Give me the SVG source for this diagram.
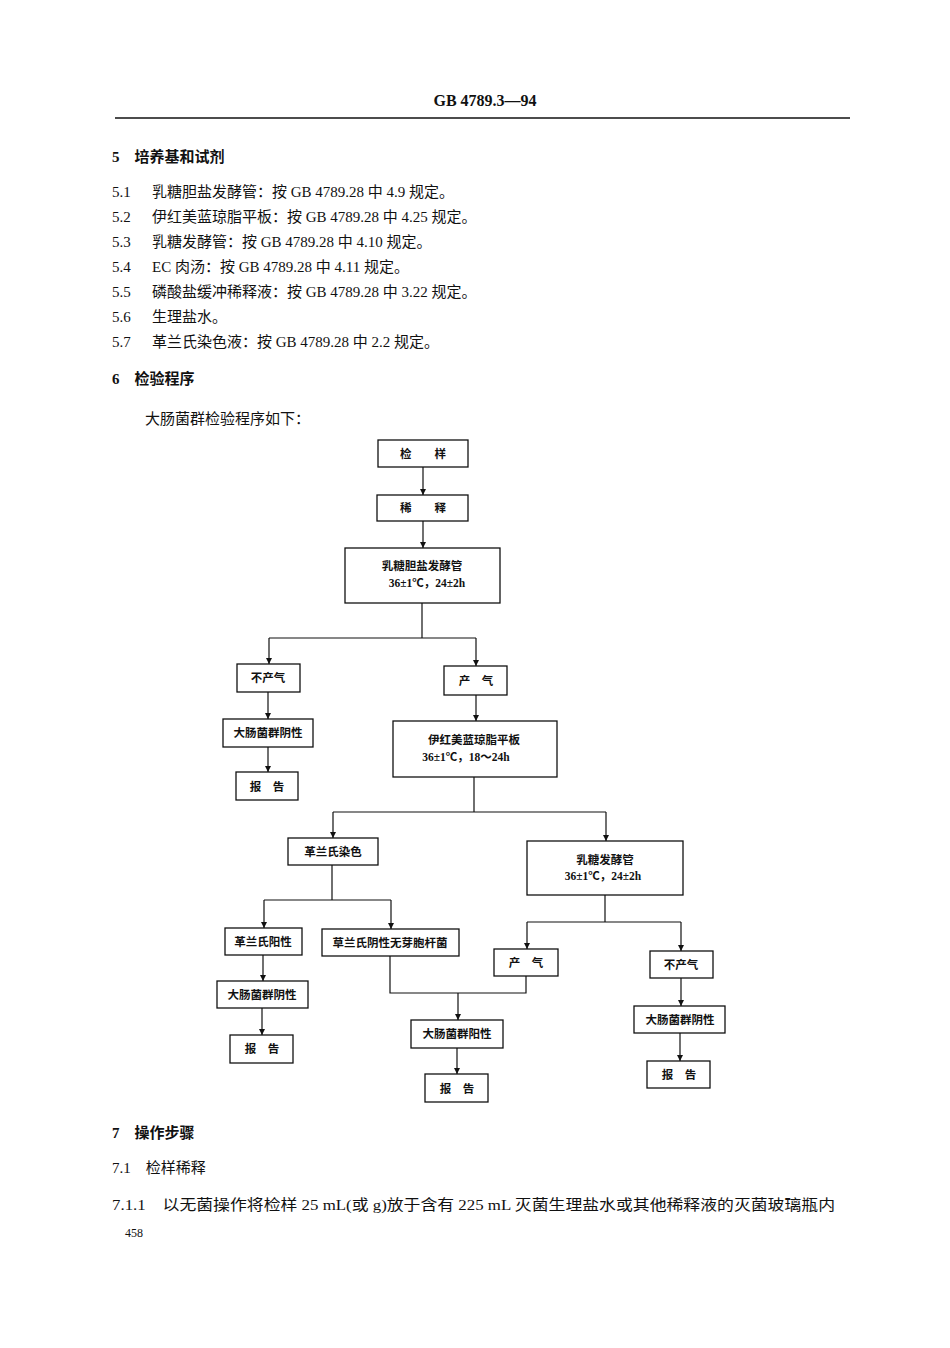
<svg xmlns="http://www.w3.org/2000/svg" width="950" height="1348" viewBox="0 0 950 1348">
<style>
text{font-family:"Liberation Serif","Noto Sans CJK SC",serif;fill:#111}
.b{font-weight:bold}
.t{font-size:15px}
.n{font-size:11.5px;font-weight:bold;text-anchor:middle}
rect{fill:#fff;stroke:#111;stroke-width:1.3}
#connectors path{fill:none;stroke:#111;stroke-width:1.2}
</style>
<defs><marker id="a" viewBox="0 0 6 6" refX="6" refY="3" markerWidth="5" markerHeight="5" orient="auto"><path d="M0,0L6,3L0,6z" fill="#111"/></marker></defs>
<rect x="0" y="0" width="950" height="1348" style="stroke:none"/>
<text x="485" y="106" class="b" font-size="16" text-anchor="middle">GB 4789.3—94</text>
<path d="M115 118H850" stroke="#111" stroke-width="1.5"/>
<g class="t">
<text x="112" y="162" class="b">5　培养基和试剂</text>
<text x="112" y="197">5.1</text><text x="152" y="197">乳糖胆盐发酵管：按 GB 4789.28 中 4.9 规定。</text>
<text x="112" y="222">5.2</text><text x="152" y="222">伊红美蓝琼脂平板：按 GB 4789.28 中 4.25 规定。</text>
<text x="112" y="247">5.3</text><text x="152" y="247">乳糖发酵管：按 GB 4789.28 中 4.10 规定。</text>
<text x="112" y="272">5.4</text><text x="152" y="272">EC 肉汤：按 GB 4789.28 中 4.11 规定。</text>
<text x="112" y="297">5.5</text><text x="152" y="297">磷酸盐缓冲稀释液：按 GB 4789.28 中 3.22 规定。</text>
<text x="112" y="322">5.6</text><text x="152" y="322">生理盐水。</text>
<text x="112" y="347">5.7</text><text x="152" y="347">革兰氏染色液：按 GB 4789.28 中 2.2 规定。</text>
<text x="112" y="384" class="b">6　检验程序</text>
<text x="145" y="424">大肠菌群检验程序如下：</text>
<text x="112" y="1138" class="b">7　操作步骤</text>
<text x="112" y="1173">7.1　检样稀释</text>
<text x="112" y="1210" textLength="723" lengthAdjust="spacingAndGlyphs">7.1.1　以无菌操作将检样 25 mL(或 g)放于含有 225 mL 灭菌生理盐水或其他稀释液的灭菌玻璃瓶内</text>
</g>
<text x="125" y="1237" font-size="12" fill="#555">458</text>
<g id="connectors">
<path d="M423 467V495" marker-end="url(#a)"/>
<path d="M423 521V548" marker-end="url(#a)"/>
<path d="M422 603V638M269 638H476M269 638V664" marker-end="url(#a)"/>
<path d="M476 638V666" marker-end="url(#a)"/>
<path d="M268 692V719" marker-end="url(#a)"/>
<path d="M268 747V772" marker-end="url(#a)"/>
<path d="M476 695V721" marker-end="url(#a)"/>
<path d="M474 777V812M333 812H606M333 812V838" marker-end="url(#a)"/>
<path d="M606 812V841" marker-end="url(#a)"/>
<path d="M332 865V900M264 900H391M264 900V928" marker-end="url(#a)"/>
<path d="M391 900V929" marker-end="url(#a)"/>
<path d="M605 895V922M527 922H681M527 922V949" marker-end="url(#a)"/>
<path d="M681 922V951" marker-end="url(#a)"/>
<path d="M263 955V981" marker-end="url(#a)"/>
<path d="M262 1008V1035" marker-end="url(#a)"/>
<path d="M390 956V993H526V976M458 993V1020" marker-end="url(#a)"/>
<path d="M457 1048V1074" marker-end="url(#a)"/>
<path d="M681 978V1006" marker-end="url(#a)"/>
<path d="M680 1033V1061" marker-end="url(#a)"/>
</g>
<g id="n1"><rect x="378" y="440" width="90" height="27"/><text x="423" y="458" class="n">检　　样</text></g>
<g id="n2"><rect x="377" y="495" width="91" height="26"/><text x="423" y="512" class="n">稀　　释</text></g>
<g id="n3"><rect x="345" y="548" width="155" height="55"/><text x="422" y="570" class="n">乳糖胆盐发酵管</text><text x="427" y="587" class="n" font-weight="normal">36±1℃，24±2h</text></g>
<g id="n4"><rect x="237" y="664" width="63" height="28"/><text x="268" y="682" class="n" font-weight="normal">不产气</text></g>
<g id="n5"><rect x="444" y="666" width="63" height="29"/><text x="476" y="685" class="n" font-weight="normal">产　气</text></g>
<g id="n6"><rect x="223" y="719" width="90" height="28"/><text x="268" y="737" class="n">大肠菌群阴性</text></g>
<g id="n7"><rect x="393" y="721" width="164" height="56"/><text x="474" y="744" class="n">伊红美蓝琼脂平板</text><text x="466" y="761" class="n" font-weight="normal">36±1℃，18～24h</text></g>
<g id="n8"><rect x="236" y="772" width="62" height="28"/><text x="267" y="791" class="n">报　告</text></g>
<g id="n9"><rect x="288" y="838" width="90" height="27"/><text x="333" y="856" class="n" font-weight="normal">革兰氏染色</text></g>
<g id="n10"><rect x="527" y="841" width="156" height="54"/><text x="605" y="864" class="n">乳糖发酵管</text><text x="603" y="880" class="n" font-weight="normal">36±1℃，24±2h</text></g>
<g id="n11"><rect x="225" y="928" width="77" height="27"/><text x="263" y="946" class="n">革兰氏阳性</text></g>
<g id="n12"><rect x="322" y="929" width="137" height="27"/><text x="390" y="947" class="n">草兰氏阴性无芽胞杆菌</text></g>
<g id="n13"><rect x="494" y="949" width="64" height="27"/><text x="526" y="967" class="n" font-weight="normal">产　气</text></g>
<g id="n14"><rect x="650" y="951" width="63" height="27"/><text x="681" y="969" class="n" font-weight="normal">不产气</text></g>
<g id="n15"><rect x="217" y="981" width="91" height="27"/><text x="262" y="999" class="n">大肠菌群阴性</text></g>
<g id="n16"><rect x="411" y="1020" width="92" height="28"/><text x="457" y="1038" class="n">大肠菌群阳性</text></g>
<g id="n17"><rect x="634" y="1006" width="91" height="27"/><text x="680" y="1024" class="n">大肠菌群阴性</text></g>
<g id="n18"><rect x="230" y="1035" width="63" height="28"/><text x="262" y="1053" class="n">报　告</text></g>
<g id="n19"><rect x="425" y="1074" width="63" height="28"/><text x="457" y="1093" class="n">报　告</text></g>
<g id="n20"><rect x="647" y="1061" width="63" height="27"/><text x="679" y="1079" class="n">报　告</text></g>
</svg>
